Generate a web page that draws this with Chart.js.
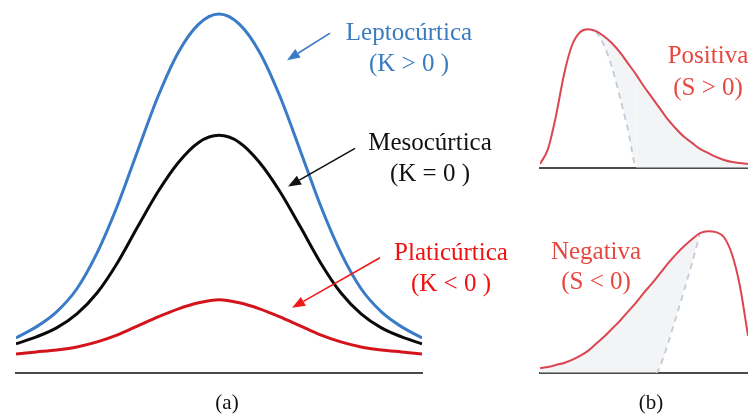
<!DOCTYPE html>
<html>
<head>
<meta charset="utf-8">
<script src="https://cdn.jsdelivr.net/npm/chart.js@4.4.1/dist/chart.umd.min.js"></script>
<style>
  body { margin: 0; background: #fff; width: 748px; height: 414px; overflow: hidden; position: relative;
         font-family: "Liberation Serif", "Times New Roman", serif; }
  canvas { position: absolute; }
  .lbl { position: absolute; font-size: 25px; line-height: 31px; text-align: center; white-space: nowrap; transform: translateX(-50%); }
  .pie { position: absolute; font-size: 21px; line-height: 24px; color: #111; transform: translateX(-50%); }
</style>
</head>
<body>
<canvas id="curtosis" width="520" height="414" style="left:0;top:0"></canvas>
<canvas id="positiva" width="228" height="200" style="left:520px;top:0"></canvas>
<canvas id="negativa" width="228" height="214" style="left:520px;top:200px"></canvas>

<div class="lbl" style="left:409px;top:16px;color:#3a7bc0">Leptocúrtica<br>(K &gt; 0 )</div>
<div class="lbl" style="left:430px;top:126px;color:#111">Mesocúrtica<br>(K = 0 )</div>
<div class="lbl" style="left:451px;top:236px;color:#f01010">Platicúrtica<br>(K &lt; 0 )</div>
<div class="lbl" style="left:708px;top:39px;line-height:32px;color:#e8473f">Positiva<br>(S &gt; 0)</div>
<div class="lbl" style="left:596px;top:236px;line-height:30px;color:#e8473f">Negativa<br>(S &lt; 0)</div>
<div class="pie" style="left:227px;top:390px">(a)</div>
<div class="pie" style="left:651px;top:390px">(b)</div>

<script>
// (a) curtosis: tres curvas simetricas
const xIzq = [0, 1, 2, 3, 4, 5, 6, 7, 8, 9, 10, 11, 12, 13, 14, 15, 16, 17, 18, 19, 20];
const leptocurtica = [35, 46, 61, 84, 120, 167, 222, 276, 320, 348, 358, 348, 320, 276, 222, 167, 120, 84, 61, 46, 35];
const mesocurtica = [29, 36, 45, 59, 80, 110, 146, 181, 210, 230, 237, 230, 210, 181, 146, 110, 80, 59, 45, 36, 29];
const platicurtica = [19, 21, 23, 26, 31, 38, 47, 56, 64, 70, 73, 70, 64, 56, 47, 38, 31, 26, 23, 21, 19];

// (b) asimetria
const xDer = [0, 1, 2, 3, 4, 5, 6, 7, 8, 9, 10, 11, 12, 13, 14, 15, 16, 17, 18, 19, 20, 21, 22, 23, 24, 25, 26];
const asimPositiva = [4, 19, 52, 93, 122, 135, 138, 136, 131, 124, 115, 104, 93, 81, 70, 59, 48, 39, 31, 25, 19, 15, 11, 8, 6, 5, 4];
const simPositivaX = [7, 8, 9, 10, 11, 12.1, 26];
const simPositivaY = [136, 122, 100, 70, 38, 0, 0];
const asimNegativa = [5, 6, 8, 10, 13, 17, 22, 29, 36, 44, 52, 61, 70, 80, 89, 99, 109, 118, 126, 133, 139, 141, 140, 135, 118, 86, 37];
const simNegativaX = [0, 14.5, 15.4, 16.6, 17.9, 19.1, 20];
const simNegativaY = [0, 0, 15, 45, 79, 112, 139];

// flechas de (a), en unidades de los ejes
const flechas = [
    { de: [15.47, 339], a: [13.35, 312], color: '#3a7bc8' },
    { de: [16.70, 224], a: [13.40, 186], color: '#111111' },
    { de: [17.93, 115], a: [13.60, 65], color: '#f01818' }
];

const puntos = (xs, ys) => xs.map((x, i) => ({ x: x, y: ys[i] }));

const curva = (label, xs, ys, color, width) => ({
    label: label,
    data: puntos(xs, ys),
    borderColor: color,
    borderWidth: width,
    pointRadius: 0,
    cubicInterpolationMode: 'monotone',
    fill: false
});

const flechasPlugin = {
    id: 'flechas',
    afterDatasetsDraw(chart) {
        const ctx = chart.ctx;
        const sx = chart.scales.x, sy = chart.scales.y;
        flechas.forEach(f => {
            const x0 = sx.getPixelForValue(f.de[0]), y0 = sy.getPixelForValue(f.de[1]);
            const x1 = sx.getPixelForValue(f.a[0]), y1 = sy.getPixelForValue(f.a[1]);
            const ang = Math.atan2(y1 - y0, x1 - x0);
            const len = 13, half = 5;
            const bx = x1 - len * Math.cos(ang), by = y1 - len * Math.sin(ang);
            ctx.save();
            ctx.strokeStyle = f.color;
            ctx.fillStyle = f.color;
            ctx.lineWidth = 1.6;
            ctx.beginPath();
            ctx.moveTo(x0, y0);
            ctx.lineTo(bx, by);
            ctx.stroke();
            ctx.beginPath();
            ctx.moveTo(x1, y1);
            ctx.lineTo(bx + half * Math.sin(ang), by - half * Math.cos(ang));
            ctx.lineTo(bx - half * Math.sin(ang), by + half * Math.cos(ang));
            ctx.closePath();
            ctx.fill();
            ctx.restore();
        });
    }
};

const ejes = (xmax, ymax) => ({
    x: {
        type: 'linear', min: 0, max: xmax,
        grid: { display: false },
        ticks: { display: false },
        border: { display: true, color: '#4a4a4a', width: 2 }
    },
    y: { display: false, min: 0, max: ymax }
});

const opcionesBase = (xmax, ymax, padding) => ({
    responsive: false,
    animation: false,
    layout: { padding: padding },
    scales: ejes(xmax, ymax),
    plugins: { legend: { display: false }, tooltip: { enabled: false } }
});

new Chart(document.getElementById('curtosis'), {
    type: 'line',
    data: {
        datasets: [
            curva('Leptocúrtica', xIzq, leptocurtica, '#3a7bc8', 3),
            curva('Mesocúrtica', xIzq, mesocurtica, '#0a0a0a', 3),
            curva('Platicúrtica', xIzq, platicurtica, '#d4141c', 3)
        ]
    },
    options: opcionesBase(20, 372, { left: 16, right: 98, top: 0, bottom: 33 }),
    plugins: [flechasPlugin]
});

const sombra = 'rgba(232, 233, 238, 0.5)';
const discontinua = (xs, ys) => ({
    label: 'simetrica',
    data: puntos(xs, ys),
    borderColor: '#c3cbd8',
    borderWidth: 1.8,
    borderDash: [6, 5],
    pointRadius: 0,
    cubicInterpolationMode: 'monotone',
    backgroundColor: sombra,
    fill: { target: 0 },
    segment: {
        borderColor: c => (c.p0.parsed.y === 0 && c.p1.parsed.y === 0) ? 'rgba(0,0,0,0)' : '#c3cbd8'
    }
});

new Chart(document.getElementById('positiva'), {
    type: 'line',
    data: {
        datasets: [
            curva('Positiva', xDer, asimPositiva, '#dc4650', 2),
            discontinua(simPositivaX, simPositivaY)
        ]
    },
    options: opcionesBase(26, 167, { left: 20, right: 0, top: 0, bottom: 24 })
});

new Chart(document.getElementById('negativa'), {
    type: 'line',
    data: {
        datasets: [
            curva('Negativa', xDer, asimNegativa, '#dc4650', 2),
            discontinua(simNegativaX, simNegativaY)
        ]
    },
    options: opcionesBase(26, 172, { left: 20, right: 0, top: 0, bottom: 33 })
});
</script>
</body>
</html>
